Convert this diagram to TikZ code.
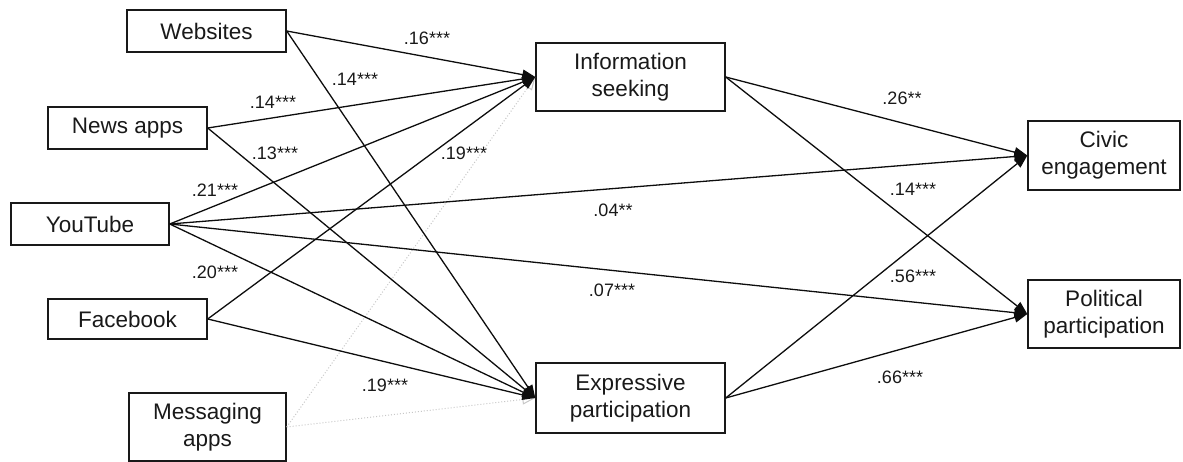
\documentclass[tikz,border=0pt]{standalone}
\usepackage{fontspec}
\setmainfont{Liberation Sans}
\usetikzlibrary{arrows.meta}
\begin{document}
\begin{tikzpicture}[x=1pt,y=-1pt,
  box/.style={draw=black!90, line width=1.4pt, inner sep=0pt, align=center,
    font=\fontsize{22.5}{27}\selectfont, text=black!90},
  lab/.style={font=\fontsize{18}{21}\selectfont, inner sep=0pt, text=black!90},
  arr/.style={draw=black!95, line width=1.3pt, -{Triangle[length=13pt,width=10pt]}},
  dotarr/.style={draw=black!22, line width=1pt, dotted, -{Triangle[length=13pt,width=10pt,open]}}]
\useasboundingbox (0,0) rectangle (1183,462);
% boxes
\node[box, minimum width=159pt, minimum height=42pt] (web) at (206.5,31) {Websites};
\node[box, minimum width=159pt, minimum height=42pt] (news) at (127.5,128) {News apps};
\node[box, minimum width=158pt, minimum height=42pt] (yt) at (90,224) {YouTube};
\node[box, minimum width=159pt, minimum height=40pt] (fb) at (127.5,319) {Facebook};
\node[box, minimum width=157pt, minimum height=68pt] (msg) at (207.5,427) {Messaging\\apps};
\node[box, minimum width=189pt, minimum height=68pt] (info) at (630.5,77) {Information\\seeking};
\node[box, minimum width=189pt, minimum height=70pt] (expr) at (630.5,398) {Expressive\\participation};
\node[box, minimum width=152pt, minimum height=69pt] (civic) at (1104,155.5) {Civic\\engagement};
\node[box, minimum width=152pt, minimum height=68pt] (pol) at (1104,314) {Political\\participation};
% connectors
\draw[dotarr] (msg.east) -- (info.west);
\draw[dotarr] (msg.east) -- (expr.west);
\draw[arr] (web.east) -- (info.west);
\draw[arr] (web.east) -- (expr.west);
\draw[arr] (news.east) -- (info.west);
\draw[arr] (news.east) -- (expr.west);
\draw[arr] (yt.east) -- (info.west);
\draw[arr] (yt.east) -- (expr.west);
\draw[arr] (yt.east) -- (civic.west);
\draw[arr] (yt.east) -- (pol.west);
\draw[arr] (fb.east) -- (info.west);
\draw[arr] (fb.east) -- (expr.west);
\draw[arr] (info.east) -- (civic.west);
\draw[arr] (info.east) -- (pol.west);
\draw[arr] (expr.east) -- (civic.west);
\draw[arr] (expr.east) -- (pol.west);
% labels
\node[lab] (l1) at (427,38) {.16***};
\node[lab] (l2) at (355,79) {.14***};
\node[lab] (l3) at (273,102) {.14***};
\node[lab] (l4) at (275,153) {.13***};
\node[lab] (l5) at (464,153) {.19***};
\node[lab] (l6) at (215,190) {.21***};
\node[lab] (l7) at (215,272) {.20***};
\node[lab] (l8) at (385,385) {.19***};
\node[lab] (l9) at (613,210) {.04**};
\node[lab] (l10) at (612,290) {.07***};
\node[lab] (l11) at (902,98) {.26**};
\node[lab] (l12) at (913,189) {.14***};
\node[lab] (l13) at (913,276) {.56***};
\node[lab] (l14) at (900,377) {.66***};
\end{tikzpicture}
\end{document}
